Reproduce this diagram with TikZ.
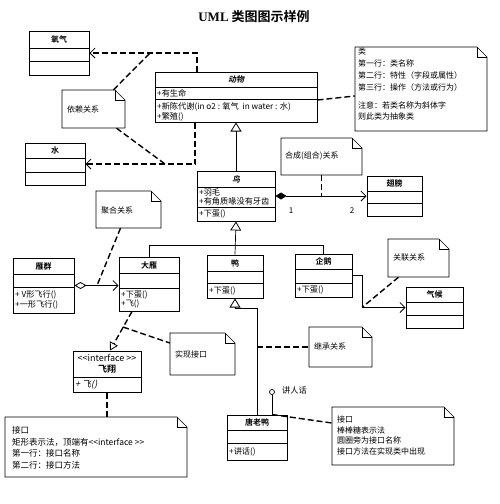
\documentclass[tikz,border=0pt]{standalone}
\usepackage{fontspec}
\setmainfont{Noto Sans CJK SC}[BoldFont={* Bold}, ItalicFont={*}, ItalicFeatures={FakeSlant=0.2}, BoldItalicFont={* Bold}, BoldItalicFeatures={FakeSlant=0.2}]
\newfontfamily\latinserif{Liberation Serif}
\usetikzlibrary{arrows.meta,fit,calc}
\newcommand\cls[8]{%
  \node[clsbox, fit={(#2,#4) (#3,#7)}] (#1) {};
  \draw[clsline] (#2,#5) -- (#3,#5);
  \draw[clsline] (#2,#6) -- (#3,#6);
  \node[ttl] (#1-t) at ($(#2,#4)!0.5!(#3,#5)$) {#8};
}
\newcommand\notebox[5]{%
  \node[fit={(#2,#3) (#4,#5)}, inner sep=0pt] (#1) {};
  \draw[notebd] (#2,#3) -- ({#4-10},#3) -- (#4,{#3+10}) -- (#4,#5) -- (#2,#5) -- cycle;
  \draw[notebd] ({#4-10},#3) -- ({#4-10},{#3+10}) -- (#4,{#3+10});
}
\begin{document}
\begin{tikzpicture}[x=1pt,y=-1pt,
  clsbox/.style={draw, line width=1pt, inner sep=0pt},
  clsline/.style={line width=1pt},
  ttl/.style={font=\bfseries\fontsize{8}{9.5}\selectfont, inner sep=0pt},
  sect/.style={font=\fontsize{8.2}{9.5}\selectfont, inner sep=0pt, anchor=west, align=left},
  notebd/.style={line width=0.7pt},
  ntext/.style={font=\fontsize{8}{11.7}\selectfont, inner sep=0pt, align=left},
  notel/.style={dash pattern=on 6pt off 3pt, line width=1.4pt},
  dep/.style={notel, -{Straight Barb[length=5pt,width=10pt,line width=0.8pt]}},
  real/.style={notel, -{Triangle[open,length=8pt,width=9pt,line width=0.8pt]}},
  gen/.style={line width=0.7pt, -{Triangle[open,length=9pt,width=11pt,line width=0.8pt]}},
  assoc/.style={line width=0.7pt, -{Straight Barb[length=5pt,width=10pt,line width=0.8pt]}},
  lbl/.style={font=\fontsize{8}{9.5}\selectfont, inner sep=0pt}
]
\useasboundingbox (0,0) rectangle (500,504);
\fill[white] (0,0) rectangle (500,504);

\node[font=\bfseries\fontsize{13}{15}\selectfont, inner sep=0pt] (title) at (254,17) {{\latinserif UML} 类图图示样例};

% classes
\cls{o2}{29}{89}{31}{48}{61}{75}{氧气}
\cls{animal}{155}{317}{72}{87}{99}{122}{\itshape 动物}
\node[sect] (animal-a) at (157,93) {+有生命};
\node[sect] (animal-o) at (157,112) {+新陈代谢(in o2 : 氧气\ \ in water : 水)\\+繁殖()};
\cls{water}{25}{85}{143}{158}{172}{185}{水}
\cls{bird}{197}{275}{171}{187}{207}{221}{\itshape 鸟}
\node[sect] (bird-a) at (199,197) {+羽毛\\+有角质喙没有牙齿};
\node[sect] (bird-o) at (199,214) {+下蛋()};
\cls{wing}{367}{422}{176}{191}{203}{216}{翅膀}
\cls{flock}{13}{74}{258}{274}{287}{313}{雁群}
\node[sect] (flock-o) at (15,300) {+ V形飞行()\\+一形飞行()};
\cls{goose}{119}{179}{257}{273}{288}{311}{大雁}
\node[sect] (goose-o) at (121,299.5) {+下蛋()\\+飞()};
\cls{duck}{207}{263}{255}{271}{283}{298}{鸭}
\node[sect] (duck-o) at (209,290.5) {+下蛋()};
\cls{penguin}{295}{352}{254}{269}{283}{297}{企鹅}
\node[sect] (penguin-o) at (297,290) {+下蛋()};
\cls{climate}{406}{463}{287}{302}{315}{328}{气候}
\cls{donald}{227}{287}{415}{430}{443}{460}{唐老鸭}
\node[sect] (donald-o) at (229,451.5) {+讲话()};

% interface
\node[clsbox, fit={(73,351) (141,392)}] (fly) {};
\draw[clsline] (73,377) -- (141,377);
\node[font=\fontsize{9}{11.5}\selectfont, inner sep=0pt, align=center] (fly-t) at (107,364) {<{}<interface >{}>\\\textbf{飞翔}};
\node[sect, font=\fontsize{9}{10}\selectfont] (fly-o) at (75,384.5) {\itshape + 飞()};

% notes
\notebox{nClass}{355}{47}{487}{131}
\notebox{nDep}{62}{90}{125}{128}
\notebox{nComp}{281}{138}{362}{175}
\notebox{nAgg}{96}{191}{161}{228}
\notebox{nAssoc}{388}{239}{449}{277}
\notebox{nReal}{170}{333}{235}{375}
\notebox{nInh}{309}{327}{372}{367}
\notebox{nIface}{5}{417}{187}{477}
\notebox{nLolli}{332}{407}{454}{465}

\node[ntext, anchor=north west] (nClass-t) at (358,48) {类\\第一行：类名称\\第二行：特性（字段或属性）\\第三行：操作（方法或行为）\\[6.5pt]注意：若类名称为斜体字\\则此类为抽象类};
\node[ntext, anchor=west] (nDep-t) at (67,109) {依赖关系};
\node[ntext, anchor=west] (nComp-t) at (285,156) {合成(组合)关系};
\node[ntext, anchor=west] (nAgg-t) at (101,210) {聚合关系};
\node[ntext, anchor=west] (nAssoc-t) at (393,258) {关联关系};
\node[ntext, anchor=west] (nReal-t) at (175,354) {实现接口};
\node[ntext, anchor=west] (nInh-t) at (314,346) {继承关系};
\node[ntext, anchor=north west, font=\fontsize{8.5}{11.7}\selectfont] (nIface-t) at (12,426) {接口\\矩形表示法，顶端有<{}<interface >{}>\\第一行：接口名称\\第二行：接口方法};
\node[ntext, anchor=north west, font=\fontsize{8}{10.5}\selectfont] (nLolli-t) at (337,416) {接口\\棒棒糖表示法\\圆圈旁为接口名称\\接口方法在实现类中出现};

% dependency
\draw[dep] ([xshift=-39pt]animal.north) |- (o2.east);
\coordinate (dk1) at (150,53);
\draw[notel] ([xshift=20pt]nDep.north) -- (dk1);
\draw[dep] ([xshift=-41pt]animal.south) |- (water.east);
\coordinate (dk2) at (165,164);
\draw[notel] ([xshift=23pt]nDep.south) -- (dk2);

% class note
\draw[notel] ([yshift=-3pt]animal.east) -- ([yshift=-7pt]nClass.west);

% generalization bird -> animal
\draw[gen] (bird.north) -- (animal.south);

% composition
\draw[line width=0.7pt, {Diamond[length=11pt,width=7pt]}-{Straight Barb[length=5pt,width=10pt,line width=0.8pt]}] (bird.east) -- (wing.west);
\node[lbl] (m1) at (291,211) {1};
\node[lbl] (m2) at (352,211) {2};
\draw[notel] (nComp.south) -- (nComp.south |- bird.east);

% inheritance tree
\draw[line width=0.7pt] (goose.north) |- (penguin.north |- 0,245) -- (penguin.north);
\draw[gen] (duck.north) -- (bird.south);

% aggregation
\draw[line width=0.7pt, {Diamond[open,length=12pt,width=7pt,line width=0.8pt]}-{Straight Barb[length=5pt,width=10pt,line width=0.8pt]}] (flock.east) -- (flock.east -| goose.west);
\coordinate (ag) at (97,285.5);
\draw[notel] ([xshift=-8pt]nAgg.south) -- (ag);

% association
\draw[assoc] (penguin.east) -- ++(10,0) |- (climate.west);
\coordinate (ac) at (362,307.5);
\draw[notel] ([xshift=-20pt]nAssoc.south) -- (ac);

% realization
\coordinate (r1) at ([xshift=-17pt]goose.south);
\coordinate (r2) at ([xshift=3pt]fly.north);
\draw[real] (r1) -- (r2);
\coordinate (rn) at ($(r1)!0.4!(r2)$);
\draw[notel] (rn) -- ([yshift=11pt]nReal.west);
\draw[notel] (fly.south) -- (fly.south |- nIface.north);

% donald inheritance
\draw[gen] (donald.north) |- (duck.south |- 0,308) -- (duck.south);
\draw[notel] (donald.north |- nInh.west) -- (nInh.west);

% lollipop
\node[circle, draw, line width=0.7pt, minimum size=5pt, inner sep=0pt] (lp) at (272,392) {};
\draw[line width=0.7pt] (lp) -- (lp |- donald.north);
\node[sect] (lp-l) at (282,390) {讲人话};
\draw[notel] (lp |- donald.north) -- ([yshift=13pt]nLolli.west);
\end{tikzpicture}
\end{document}
